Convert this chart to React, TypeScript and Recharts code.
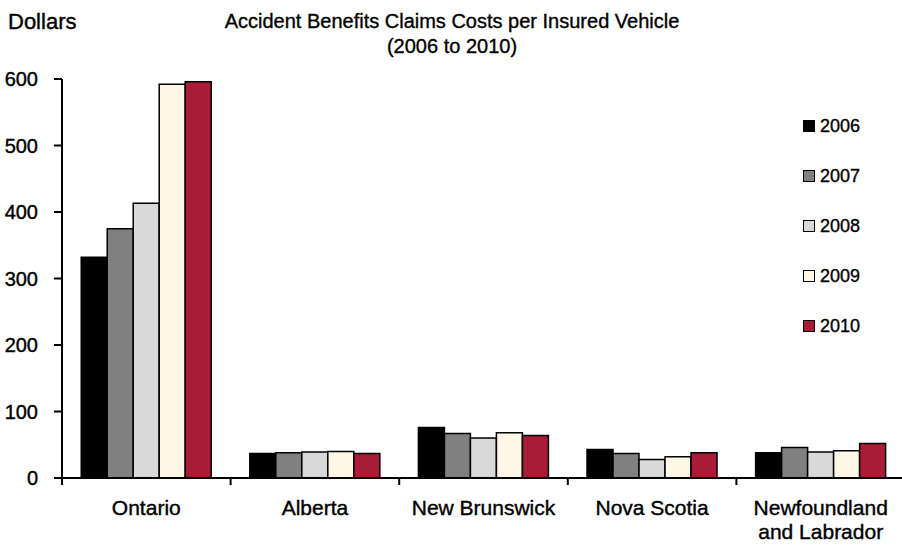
import React from "react";
import { BarChart, Bar, XAxis, YAxis } from "recharts";

const categories = ["Ontario", "Alberta", "New Brunswick", "Nova Scotia", "Newfoundland and Labrador"];
const tickLabels = [["Ontario"], ["Alberta"], ["New Brunswick"], ["Nova Scotia"], ["Newfoundland", "and Labrador"]];
const years = ["2006", "2007", "2008", "2009", "2010"];
const v2006 = [332, 37, 76, 43, 38];
const v2007 = [375, 38, 67, 37, 46];
const v2008 = [413, 39, 60, 28, 39];
const v2009 = [592, 40, 68, 32, 41];
const v2010 = [596, 37, 64, 38, 52];
const yTicks = [0, 100, 200, 300, 400, 500, 600];
const colors = ["#000000", "#808080", "#D9D9D9", "#FFF7E6", "#A81C35"];

const seriesValues = [v2006, v2007, v2008, v2009, v2010];
const data = categories.map((c, i) => {
  const row: any = { name: c };
  years.forEach((y, k) => (row[y] = seriesValues[k][i]));
  return row;
});

const FONT = '"Liberation Sans", Arial, sans-serif';

const XTick = (props: any) => {
  const { x, y, payload } = props;
  const off = payload && typeof payload.offset === "number" ? payload.offset : 0;
  const lines = tickLabels[payload.index] || [String(payload.value)];
  return (
    <g>
      <line x1={x - off} x2={x - off} y1={y} y2={y + 7} stroke="#000" strokeWidth={2} />
      <text x={x} y={y} textAnchor="middle" fill="#000" fontSize={21} fontFamily={FONT} stroke="#000" strokeWidth={0.4}>
        {lines.map((l, i) => (
          <tspan key={i} x={x} dy={i === 0 ? 37 : 24}>
            {l}
          </tspan>
        ))}
      </text>
    </g>
  );
};

const LegendBox = () => (
  <div style={{ position: "absolute", left: 803, top: 101 }}>
    {years.map((y, i) => (
      <div key={y} style={{ height: 50, display: "flex", alignItems: "center" }}>
        <span
          style={{
            display: "inline-block",
            width: 10,
            height: 10,
            background: colors[i],
            border: "1.5px solid #000",
            marginRight: 5,
          }}
        />
        <span style={{ fontFamily: FONT, fontSize: 18, color: "#000", WebkitTextStroke: "0.35px #000" }}>{y}</span>
      </div>
    ))}
  </div>
);

export default function App() {
  return (
    <div style={{ position: "absolute", left: 0, top: 0, width: 902, height: 550, overflow: "hidden", background: "#fff" }}>
      <div
        style={{
          position: "absolute",
          left: 8,
          top: 8,
          fontFamily: FONT,
          fontSize: 22,
          lineHeight: "28px",
          color: "#000",
          WebkitTextStroke: "0.4px #000",
        }}
      >
        Dollars
      </div>
      <div
        style={{
          position: "absolute",
          left: 0,
          width: 904,
          top: 9,
          textAlign: "center",
          fontFamily: FONT,
          fontSize: 20,
          lineHeight: "25px",
          color: "#000",
          WebkitTextStroke: "0.35px #000",
        }}
      >
        <div>Accident Benefits Claims Costs per Insured Vehicle</div>
        <div>(2006 to 2010)</div>
      </div>
      <BarChart
        width={905}
        height={550}
        data={data}
        margin={{ top: 79, right: 0, bottom: 0, left: 0 }}
        barCategoryGap="11.4%"
        barGap={0}
      >
        <XAxis
          dataKey="name"
          height={72}
          tickSize={0}
          tickMargin={0}
          tickLine={false}
          axisLine={{ stroke: "#000", strokeWidth: 2 }}
          tick={<XTick />}
          interval={0}
        />
        <YAxis
          width={62}
          domain={[0, 600]}
          ticks={yTicks}
          tickSize={8}
          tickMargin={16}
          axisLine={{ stroke: "#000", strokeWidth: 2 }}
          tickLine={{ stroke: "#000", strokeWidth: 2 }}
          tick={{ fill: "#000", fontSize: 20, fontFamily: FONT, stroke: "#000", strokeWidth: 0.4 }}
          interval={0}
        />
        {years.map((y, k) => (
          <Bar key={y} dataKey={y} name={y} fill={colors[k]} stroke="#000" strokeWidth={1.5} isAnimationActive={false} />
        ))}
      </BarChart>
      <LegendBox />
    </div>
  );
}
